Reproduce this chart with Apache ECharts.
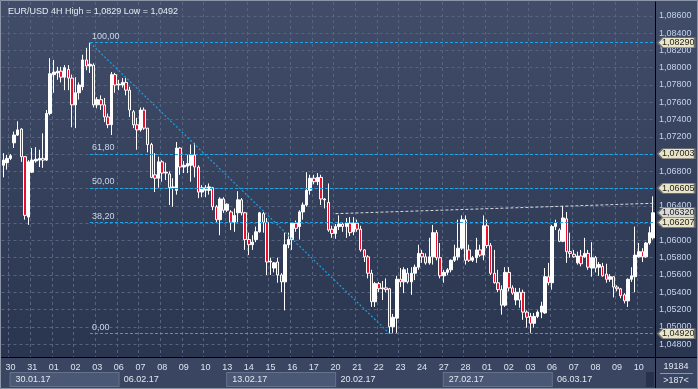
<!DOCTYPE html>
<html><head><meta charset="utf-8">
<script src="https://cdn.jsdelivr.net/npm/echarts@6/dist/echarts.min.js"></script>
<style>html,body{margin:0;padding:0;background:#2a3550;}#c{width:698px;height:389px;}</style>
</head><body><div id="c"></div><script>
// ---------- data ----------
const titleText = 'EUR/USD 4H High = 1,0829 Low = 1,0492';
const leadDate = '27.01';
const leadBars = 2;
const barsPerDay = 6;
const barsPerWeek = 30;
const dayDates = ['30.01','31.01','01.02','02.02','03.02','06.02','07.02','08.02','09.02','10.02',
  '13.02','14.02','15.02','16.02','17.02','20.02','21.02','22.02','23.02','24.02',
  '27.02','28.02','01.03','02.03','03.03','06.03','07.03','08.03','09.03','10.03'];
const weekLabels = ['30.01.17','06.02.17','13.02.17','20.02.17','27.02.17','06.03.17'];
// [open, close, low, high]
const ohlc = [
[1.0687,1.0693,1.0673,1.0701],[1.0690,1.0695,1.0682,1.0699],[1.0695,1.0698,1.0693,1.0700],[1.0713,1.0722,1.0707,1.0726],
[1.0722,1.0728,1.0721,1.0738],[1.0729,1.0697,1.0691,1.0730],[1.0697,1.0629,1.0624,1.0697],[1.0627,1.0691,1.0618,1.0693],
[1.0679,1.0693,1.0678,1.0707],[1.0692,1.0694,1.0690,1.0708],[1.0693,1.0695,1.0685,1.0705],[1.0695,1.0693,1.0684,1.0724],
[1.0693,1.0747,1.0692,1.0751],[1.0747,1.0793,1.0745,1.0811],[1.0792,1.0795,1.0771,1.0809],[1.0794,1.0796,1.0786,1.0801],
[1.0796,1.0789,1.0783,1.0801],[1.0789,1.0800,1.0774,1.0803],[1.0798,1.0788,1.0774,1.0803],[1.0788,1.0757,1.0731,1.0792],
[1.0757,1.0771,1.0730,1.0789],[1.0771,1.0780,1.0763,1.0783],[1.0778,1.0809,1.0774,1.0815],[1.0809,1.0802,1.0797,1.0823],
[1.0802,1.0804,1.0794,1.0829],[1.0803,1.0757,1.0754,1.0805],[1.0757,1.0763,1.0753,1.0766],[1.0763,1.0757,1.0751,1.0768],
[1.0757,1.0743,1.0737,1.0765],[1.0743,1.0734,1.0730,1.0747],[1.0734,1.0792,1.0722,1.0795],[1.0792,1.0780,1.0771,1.0794],
[1.0780,1.0781,1.0774,1.0786],[1.0780,1.0783,1.0777,1.0788],[1.0783,1.0774,1.0768,1.0788],[1.0774,1.0751,1.0743,1.0778],
[1.0749,1.0734,1.0730,1.0751],[1.0734,1.0728,1.0705,1.0742],[1.0728,1.0751,1.0726,1.0754],[1.0751,1.0730,1.0728,1.0754],
[1.0730,1.0711,1.0702,1.0730],[1.0711,1.0673,1.0672,1.0713],[1.0676,1.0672,1.0656,1.0701],[1.0672,1.0691,1.0661,1.0697],
[1.0691,1.0678,1.0668,1.0693],[1.0678,1.0679,1.0670,1.0690],[1.0677,1.0661,1.0641,1.0680],[1.0661,1.0662,1.0639,1.0672],
[1.0658,1.0707,1.0653,1.0714],[1.0707,1.0685,1.0676,1.0708],[1.0685,1.0687,1.0678,1.0692],[1.0686,1.0689,1.0678,1.0699],
[1.0687,1.0699,1.0668,1.0711],[1.0699,1.0685,1.0673,1.0713],[1.0685,1.0656,1.0649,1.0687],[1.0656,1.0661,1.0650,1.0664],
[1.0658,1.0661,1.0650,1.0664],[1.0658,1.0662,1.0653,1.0666],[1.0661,1.0639,1.0635,1.0662],[1.0639,1.0624,1.0620,1.0641],
[1.0624,1.0648,1.0606,1.0650],[1.0648,1.0635,1.0632,1.0650],[1.0635,1.0642,1.0633,1.0643],[1.0633,1.0621,1.0612,1.0635],
[1.0621,1.0629,1.0610,1.0637],[1.0632,1.0647,1.0620,1.0657],[1.0647,1.0632,1.0629,1.0649],[1.0632,1.0601,1.0589,1.0633],
[1.0601,1.0595,1.0583,1.0609],[1.0595,1.0598,1.0589,1.0606],[1.0601,1.0610,1.0598,1.0616],[1.0610,1.0632,1.0609,1.0633],
[1.0631,1.0621,1.0609,1.0633],[1.0621,1.0575,1.0560,1.0626],[1.0575,1.0576,1.0560,1.0580],[1.0568,1.0574,1.0563,1.0575],
[1.0575,1.0560,1.0551,1.0580],[1.0560,1.0552,1.0540,1.0562],[1.0552,1.0595,1.0519,1.0609],[1.0595,1.0601,1.0591,1.0609],
[1.0601,1.0620,1.0589,1.0621],[1.0620,1.0614,1.0610,1.0623],[1.0616,1.0633,1.0601,1.0635],[1.0633,1.0641,1.0624,1.0644],
[1.0641,1.0658,1.0639,1.0679],[1.0658,1.0672,1.0653,1.0676],[1.0672,1.0668,1.0665,1.0676],[1.0668,1.0673,1.0664,1.0678],
[1.0673,1.0648,1.0641,1.0676],[1.0647,1.0648,1.0637,1.0649],[1.0644,1.0612,1.0610,1.0666],[1.0613,1.0608,1.0603,1.0617],
[1.0608,1.0616,1.0602,1.0619],[1.0616,1.0619,1.0612,1.0629],[1.0619,1.0616,1.0610,1.0621],[1.0616,1.0620,1.0603,1.0626],
[1.0620,1.0609,1.0605,1.0627],[1.0610,1.0620,1.0606,1.0627],[1.0620,1.0613,1.0610,1.0624],[1.0613,1.0589,1.0587,1.0617],
[1.0589,1.0581,1.0575,1.0590],[1.0581,1.0562,1.0556,1.0583],[1.0562,1.0529,1.0523,1.0566],[1.0529,1.0550,1.0523,1.0552],
[1.0550,1.0544,1.0540,1.0552],[1.0544,1.0545,1.0531,1.0553],[1.0545,1.0543,1.0540,1.0556],[1.0544,1.0500,1.0492,1.0545],
[1.0500,1.0511,1.0493,1.0515],[1.0510,1.0555,1.0493,1.0559],[1.0555,1.0552,1.0546,1.0568],[1.0552,1.0566,1.0539,1.0569],
[1.0562,1.0552,1.0550,1.0568],[1.0552,1.0562,1.0537,1.0569],[1.0562,1.0569,1.0554,1.0572],[1.0569,1.0585,1.0566,1.0595],
[1.0585,1.0581,1.0574,1.0589],[1.0581,1.0574,1.0572,1.0585],[1.0574,1.0581,1.0572,1.0603],[1.0581,1.0609,1.0572,1.0618],
[1.0609,1.0580,1.0577,1.0612],[1.0580,1.0559,1.0556,1.0597],[1.0559,1.0563,1.0551,1.0566],[1.0563,1.0566,1.0560,1.0568],
[1.0566,1.0577,1.0563,1.0578],[1.0577,1.0581,1.0575,1.0595],[1.0581,1.0591,1.0577,1.0624],[1.0591,1.0624,1.0589,1.0629],
[1.0624,1.0577,1.0572,1.0629],[1.0589,1.0577,1.0575,1.0595],[1.0577,1.0580,1.0575,1.0582],[1.0580,1.0589,1.0574,1.0603],
[1.0589,1.0583,1.0581,1.0595],[1.0583,1.0617,1.0577,1.0629],[1.0617,1.0594,1.0591,1.0624],[1.0594,1.0562,1.0560,1.0597],
[1.0562,1.0551,1.0550,1.0589],[1.0551,1.0543,1.0540,1.0566],[1.0543,1.0525,1.0514,1.0548],[1.0525,1.0563,1.0523,1.0569],
[1.0563,1.0545,1.0541,1.0569],[1.0545,1.0539,1.0537,1.0548],[1.0531,1.0540,1.0525,1.0545],[1.0540,1.0531,1.0522,1.0545],
[1.0540,1.0517,1.0508,1.0543],[1.0517,1.0511,1.0499,1.0519],[1.0512,1.0504,1.0493,1.0516],[1.0504,1.0512,1.0499,1.0516],
[1.0512,1.0517,1.0510,1.0519],[1.0517,1.0524,1.0510,1.0529],[1.0516,1.0558,1.0515,1.0568],[1.0558,1.0551,1.0548,1.0574],
[1.0551,1.0616,1.0543,1.0618],[1.0616,1.0620,1.0612,1.0624],[1.0612,1.0599,1.0598,1.0614],[1.0599,1.0626,1.0598,1.0640],
[1.0625,1.0587,1.0574,1.0633],[1.0587,1.0585,1.0580,1.0609],[1.0584,1.0581,1.0580,1.0589],[1.0574,1.0582,1.0572,1.0587],
[1.0582,1.0573,1.0570,1.0589],[1.0581,1.0585,1.0580,1.0603],[1.0585,1.0569,1.0566,1.0589],[1.0568,1.0580,1.0558,1.0598],
[1.0580,1.0568,1.0563,1.0582],[1.0569,1.0572,1.0559,1.0575],[1.0570,1.0559,1.0558,1.0574],[1.0561,1.0555,1.0551,1.0573],
[1.0555,1.0558,1.0552,1.0561],[1.0558,1.0546,1.0534,1.0558],[1.0546,1.0544,1.0541,1.0548],[1.0544,1.0536,1.0533,1.0545],
[1.0537,1.0530,1.0527,1.0539],[1.0530,1.0555,1.0523,1.0556],[1.0555,1.0559,1.0552,1.0569],[1.0558,1.0583,1.0540,1.0616],
[1.0581,1.0587,1.0580,1.0597],[1.0587,1.0581,1.0575,1.0591],[1.0581,1.0597,1.0580,1.0598],[1.0597,1.0609,1.0595,1.0616],
[1.0603,1.0632,1.0601,1.0651]
];
const priceTicks = [1.048,1.050,1.052,1.054,1.056,1.058,1.060,1.062,1.064,1.066,1.068,1.070,1.072,1.074,1.076,1.078,1.080,1.082,1.084,1.086];
const yMin = 1.0465, yMax = 1.08761;
const fibHigh = 1.0829, fibLow = 1.0492;
const fibHighIndex = 24, fibLowIndex = 107;
const fibLevels = [100, 61.8, 50, 38.2, 0];
const trendStart = [92, 1.0631], trendEnd = [180, 1.0643];
const footerTop = '19184', footerBottom = '>187<';

// ---------- build ----------
const lastIndex = ohlc.length - 1;
const categories = ohlc.map((_, i) => {
  if (i < leadBars) return leadDate + ' ' + (16 + i * 4) + ':00';
  const d = Math.floor((i - leadBars) / barsPerDay);
  const h = ((i - leadBars) % barsPerDay) * 4;
  return dayDates[d] + ' ' + String(h).padStart(2, '0') + ':00';
});
const isDayStart = i => i >= leadBars && (i - leadBars) % barsPerDay === 0;
const isWeekStart = i => i >= leadBars && (i - leadBars) % barsPerWeek === 0;
const fmt = (v, d) => v.toFixed(d).replace('.', ',');
const font = 'Liberation Sans, Arial, sans-serif';
const fibPrice = lv => fibLow + (fibHigh - fibLow) * lv / 100;

const fibLines = fibLevels.map(lv => [
  { coord: [fibHighIndex, fibPrice(lv)],
    label: { show: true, position: 'insideStartTop', formatter: fmt(lv, 2), color: '#c9d6ec', fontSize: 9, fontFamily: font, distance: [2, 2] },
    lineStyle: { color: '#1ea6ec', type: [3, 2], width: 1 } },
  { coord: [lastIndex, fibPrice(lv)] }
]);
const diag = [
  { coord: [fibHighIndex, fibHigh], label: { show: false }, lineStyle: { color: '#1a9fe0', type: [2, 2], width: 1.2 } },
  { coord: [fibLowIndex, fibLow] }
];
const trend = [
  { coord: trendStart, label: { show: false }, lineStyle: { color: '#d6d9de', type: [3, 2], width: 1 } },
  { coord: trendEnd }
];
const lastClose = ohlc[lastIndex][1];
const tagPrices = [fibPrice(100), fibPrice(61.8), fibPrice(50), lastClose, fibPrice(38.2), fibPrice(0)];
const tags = tagPrices.map(p => ({
  coord: [lastIndex, p], value: p,
  itemStyle: { color: p === lastClose ? '#d8d8d6' : '#e9e5c6', borderColor: '#6d6d6d', borderWidth: 1 }
}));

const chart = echarts.init(document.getElementById('c'), null, { renderer: 'canvas' });
chart.setOption({
  animation: false,
  backgroundColor: { type: 'linear', x: 0, y: 0, x2: 0, y2: 1,
    colorStops: [{ offset: 0, color: '#424e69' }, { offset: 0.9, color: '#2a3550' }, { offset: 1, color: '#2a3550' }] },
  textStyle: { fontFamily: font },
  title: { text: titleText, left: 3, top: 2, textStyle: { color: '#e6eaf1', fontSize: 9, fontWeight: 'normal', fontFamily: font } },
  grid: { left: 1.5, right: 43, top: 2, bottom: 32, containLabel: false },
  xAxis: [{
    type: 'category', data: categories, boundaryGap: true, position: 'bottom',
    axisLine: { show: true, lineStyle: { color: '#000000', width: 1 } },
    axisTick: { show: false },
    axisLabel: { interval: (i) => isDayStart(i), formatter: v => v.slice(0, 2), color: '#dde4ef', fontSize: 9, margin: 6, fontFamily: font },
    splitLine: { show: true, interval: (i) => isDayStart(i), lineStyle: { color: '#56647f', type: [3, 3], width: 1 } }
  }, {
    type: 'category', data: categories, boundaryGap: true, position: 'bottom', offset: 0,
    axisLine: { show: false }, axisTick: { show: false }, splitLine: { show: false },
    axisLabel: {
      interval: (i) => isWeekStart(i), align: 'left', margin: 16, fontFamily: font,
      formatter: (v, idx) => { const k = Math.round((idx - leadBars) / barsPerWeek); return '{' + (k % 2 === 0 ? 'a' : 'b') + '|' + weekLabels[k] + '}'; },
      rich: {
        a: { backgroundColor: '#4a5775', borderColor: '#65728e', borderWidth: 1, width: 103, height: 13, padding: [0, 0, 0, 5], color: '#e3e8f0', fontSize: 9, fontFamily: font },
        b: { width: 103, height: 13, padding: [0, 0, 0, 5], color: '#e3e8f0', fontSize: 9, fontFamily: font }
      }
    }
  }],
  yAxis: {
    type: 'value', position: 'right', min: yMin, max: yMax, scale: true,
    axisLine: { show: true, lineStyle: { color: '#000000', width: 1 } },
    axisTick: { show: false, customValues: priceTicks },
    axisLabel: { customValues: priceTicks, formatter: v => fmt(v, 5), color: '#c3d2ea', fontSize: 9, margin: 4, fontFamily: font },
    splitLine: { show: true, lineStyle: { color: '#56647f', type: [3, 3], width: 1 } }
  },
  series: [{
    type: 'candlestick', data: ohlc, barWidth: 3,
    itemStyle: { color: '#ffffff', color0: '#e8102c', borderColor: '#ffffff', borderColor0: '#ffffff', borderWidth: 1 },
    markLine: { silent: true, symbol: ['none', 'none'], animation: false, data: fibLines.concat([diag, trend]) },
    markPoint: {
      silent: true, animation: false,
      symbol: 'path://M0,5 L5,0 L38,0 L38,10 L5,10 Z', symbolSize: [37, 10], symbolOffset: [23, 0], symbolKeepAspect: false,
      label: { show: true, position: 'inside', offset: [2, 0], formatter: p => fmt(p.value, 5), color: '#1e1e1e', fontSize: 9, fontFamily: font },
      data: tags
    }
  }],
  graphic: [
    { type: 'rect', z: -10, shape: { x: 0, y: 357, width: 698, height: 32 }, style: { fill: '#394561' }, silent: true },
    { type: 'line', shape: { x1: 655.5, y1: 357, x2: 655.5, y2: 389 }, style: { stroke: '#000', lineWidth: 1 } },
    { type: 'line', shape: { x1: 655, y1: 357.5, x2: 698, y2: 357.5 }, style: { stroke: '#000', lineWidth: 1 } },
    { type: 'rect', shape: { x: 646, y: 372, width: 8, height: 15 }, style: { fill: '#28324a' } },
    { type: 'line', shape: { x1: 660, y1: 373.5, x2: 693, y2: 373.5 }, style: { stroke: '#8e98ab', lineWidth: 1 } },
    { type: 'text', x: 676, y: 366.5, style: { text: footerTop, fill: '#e0e6ef', font: '9px ' + font, align: 'center', verticalAlign: 'middle' } },
    { type: 'text', x: 676, y: 380.5, style: { text: footerBottom, fill: '#e0e6ef', font: '9px ' + font, align: 'center', verticalAlign: 'middle' } },
    { type: 'rect', shape: { x: 0.5, y: 0.5, width: 697, height: 388 }, style: { fill: 'none', stroke: '#8b95a7', lineWidth: 1 } }
  ]
});
</script></body></html>
